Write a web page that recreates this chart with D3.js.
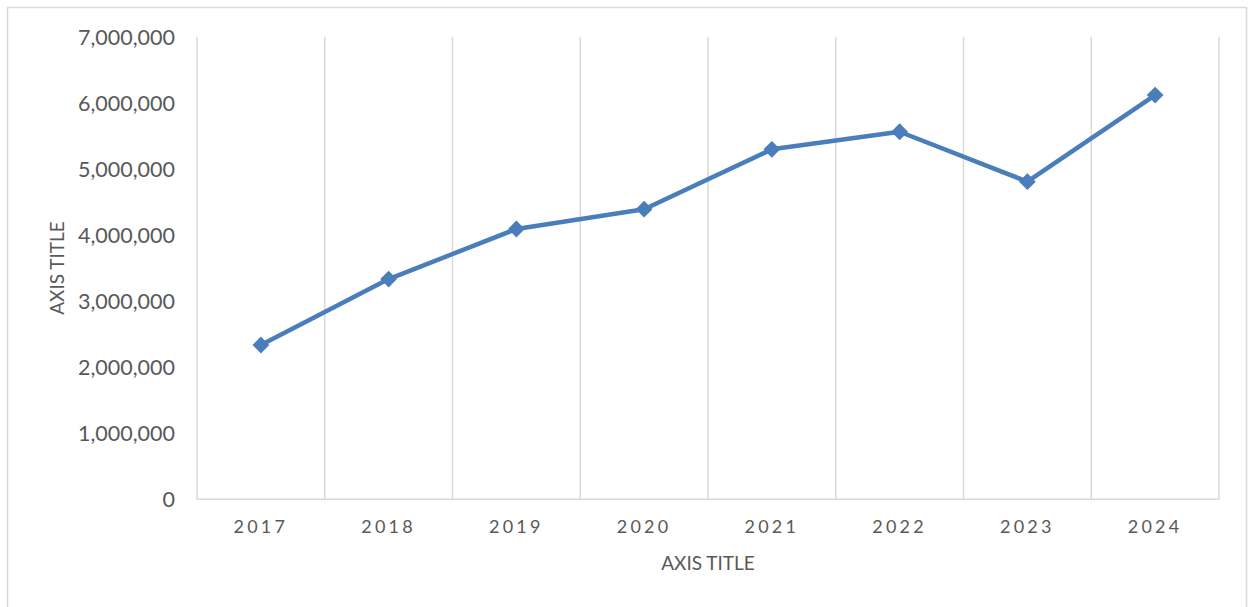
<!DOCTYPE html>
<html><head><meta charset="utf-8">
<script src="https://cdn.jsdelivr.net/npm/d3@7"></script>
<style>body{margin:0;background:#fff}svg{display:block}</style>
</head><body>
<svg id="c" width="1248" height="607"></svg>
<script>
const categories = ["2017","2018","2019","2020","2021","2022","2023","2024"];
const values = [2335000, 3333000, 4090000, 4390000, 5296000, 5562000, 4806000, 6117000];
const yTicks = [0,1000000,2000000,3000000,4000000,5000000,6000000,7000000];
const xTitle = "AXIS TITLE", yTitle = "AXIS TITLE";

const svg = d3.select("#c");
const m = {l:197, r:1219, t:36.7, b:499.3};
const font = "Lato, 'Open Sans', sans-serif";
const txt = "#595959", grid = "#d9d9d9", col = "#4a7ebb";

svg.append("rect").attr("x",7.5).attr("y",7.5).attr("width",1239).attr("height",610)
  .attr("fill","#fff").attr("stroke","#d9d9d9").attr("stroke-width",1.5);

const x = d3.scaleBand().domain(categories).range([m.l,m.r]).padding(0);
const y = d3.scaleLinear().domain([0,7000000]).range([m.b,m.t]);

const bounds = categories.map(c=>x(c)).concat([x(categories[categories.length-1])+x.bandwidth()]);
svg.append("g").selectAll("line").data(bounds).join("line")
  .attr("x1",d=>d).attr("x2",d=>d).attr("y1",m.t).attr("y2",m.b)
  .attr("stroke",grid).attr("stroke-width",1.5);
svg.append("line").attr("x1",m.l).attr("x2",m.r).attr("y1",m.b).attr("y2",m.b)
  .attr("stroke",grid).attr("stroke-width",1.5);

const yAx = d3.axisLeft(y).tickValues(yTicks).tickFormat(d3.format(",")).tickSize(0).tickPadding(22);
const gy = svg.append("g").attr("transform",`translate(${m.l},0)`).call(yAx);
gy.select(".domain").remove();
gy.selectAll("text").attr("fill",txt).attr("font-family",font).attr("font-size",21.5).attr("dy","0.35em");

const xAx = d3.axisBottom(x).tickSize(0).tickPadding(21);
const gx = svg.append("g").attr("transform",`translate(0,${m.b})`).call(xAx);
gx.select(".domain").remove();
gx.selectAll("text").attr("fill",txt).attr("font-family",font).attr("font-size",18)
  .attr("letter-spacing","3.3px").attr("dy","0.71em");

svg.append("text").attr("x",(m.l+m.r)/2).attr("y",570).attr("text-anchor","middle")
  .attr("fill",txt).attr("font-family",font).attr("font-size",19).text(xTitle);
svg.append("text").attr("transform",`translate(64,${(m.t+m.b)/2}) rotate(-90)`).attr("text-anchor","middle")
  .attr("fill",txt).attr("font-family",font).attr("font-size",19).text(yTitle);

const line = d3.line().x((d,i)=>x(categories[i])+x.bandwidth()/2).y(d=>y(d));
svg.append("path").datum(values).attr("d",line).attr("fill","none")
  .attr("stroke",col).attr("stroke-width",4.5).attr("stroke-linejoin","round");
const sym = d3.symbol().type(d3.symbolDiamond2).size(180);
svg.append("g").selectAll("path").data(values).join("path")
  .attr("transform",(d,i)=>`translate(${x(categories[i])+x.bandwidth()/2},${y(d)})`)
  .attr("d",sym).attr("fill",col);
</script>
</body></html>
